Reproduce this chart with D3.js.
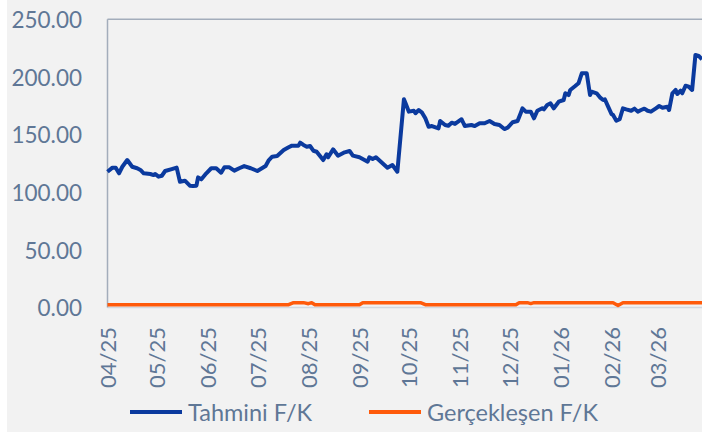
<!DOCTYPE html>
<html>
<head>
<meta charset="utf-8">
<script src="https://cdn.jsdelivr.net/npm/d3@7/dist/d3.min.js"></script>
<style>
    body { margin: 0; background: #ffffff; }
    svg text { font-family: Lato, "Open Sans", sans-serif; fill: #5f7796; }
</style>
</head>
<body>
<svg id="canvas"></svg>
<script>
// ########## Data ##########

seriesNames = ["Tahmini F/K", "Gerçekleşen F/K"];

tahminiDates = [
    "2025-04-01", "2025-04-04", "2025-04-06", "2025-04-08", "2025-04-10", "2025-04-13", "2025-04-16", "2025-04-19",
    "2025-04-21", "2025-04-23", "2025-04-27", "2025-04-29", "2025-04-30", "2025-05-02", "2025-05-04", "2025-05-06",
    "2025-05-10", "2025-05-13", "2025-05-15", "2025-05-18", "2025-05-21", "2025-05-23", "2025-05-25", "2025-05-26",
    "2025-05-28", "2025-05-31", "2025-06-03", "2025-06-06", "2025-06-09", "2025-06-11", "2025-06-14", "2025-06-17",
    "2025-06-20", "2025-06-23", "2025-06-27", "2025-07-01", "2025-07-03", "2025-07-06", "2025-07-08", "2025-07-10",
    "2025-07-13", "2025-07-17", "2025-07-20", "2025-07-22", "2025-07-26", "2025-07-27", "2025-07-29", "2025-07-31",
    "2025-08-02", "2025-08-04", "2025-08-06", "2025-08-10", "2025-08-12", "2025-08-13", "2025-08-16", "2025-08-19",
    "2025-08-23", "2025-08-26", "2025-08-28", "2025-09-01", "2025-09-06", "2025-09-07", "2025-09-09", "2025-09-11",
    "2025-09-15", "2025-09-18", "2025-09-21", "2025-09-24", "2025-09-28", "2025-09-29", "2025-10-01", "2025-10-04",
    "2025-10-05", "2025-10-07", "2025-10-09", "2025-10-11", "2025-10-13", "2025-10-15", "2025-10-19", "2025-10-20",
    "2025-10-23", "2025-10-25", "2025-10-27", "2025-10-29", "2025-11-02", "2025-11-04", "2025-11-08", "2025-11-10",
    "2025-11-13", "2025-11-16", "2025-11-19", "2025-11-22", "2025-11-25", "2025-11-28", "2025-11-30", "2025-12-03",
    "2025-12-06", "2025-12-08", "2025-12-09", "2025-12-11", "2025-12-14", "2025-12-16", "2025-12-18", "2025-12-21",
    "2025-12-22", "2025-12-24", "2025-12-26", "2025-12-28", "2025-12-31", "2026-01-03", "2026-01-04", "2026-01-06",
    "2026-01-07", "2026-01-10", "2026-01-12", "2026-01-14", "2026-01-17", "2026-01-19", "2026-01-20", "2026-01-23",
    "2026-01-25", "2026-01-27", "2026-01-28", "2026-01-30", "2026-02-01", "2026-02-02", "2026-02-04", "2026-02-06",
    "2026-02-08", "2026-02-10", "2026-02-13", "2026-02-15", "2026-02-17", "2026-02-19", "2026-02-21", "2026-02-23",
    "2026-02-25", "2026-02-28", "2026-03-02", "2026-03-04", "2026-03-07", "2026-03-08", "2026-03-10", "2026-03-12",
    "2026-03-13", "2026-03-15", "2026-03-16", "2026-03-18", "2026-03-20", "2026-03-22", "2026-03-24", "2026-03-26",
    "2026-03-28"
];

tahminiValues = [
    117.8, 121.3, 121.3, 116.4, 122.1, 127.9, 122.1, 120.8,
    119.3, 116.4, 115.8, 114.9, 115.8, 113.5, 114.3, 118.4,
    120.1, 121.3, 109.1, 110.0, 105.7, 105.4, 105.7, 112.9,
    111.2, 116.4, 120.8, 120.8, 116.9, 121.6, 121.6, 118.7,
    120.8, 122.7, 120.8, 118.4, 120.1, 122.7, 127.9, 130.8,
    131.4, 136.6, 139.0, 140.4, 140.4, 143.0, 141.0, 139.5,
    140.1, 136.0, 135.1, 127.9, 132.9, 130.3, 137.2, 131.7,
    134.6, 135.8, 131.7, 130.3, 126.5, 130.3, 128.8, 130.3,
    125.1, 121.3, 123.6, 117.8, 180.6, 177.1, 169.9, 170.7,
    168.5, 171.3, 169.0, 164.1, 156.8, 157.4, 155.4, 161.8,
    158.3, 157.7, 160.3, 159.2, 163.3, 157.4, 158.3, 157.4,
    159.8, 159.8, 161.8, 159.2, 158.3, 154.8, 156.0, 160.7,
    161.8, 169.0, 172.8, 169.9, 169.9, 164.1, 170.7, 172.8,
    171.9, 175.7, 177.1, 172.8, 178.5, 180.0, 185.8, 184.3,
    188.7, 192.1, 194.5, 203.2, 203.2, 184.3, 187.2, 185.8,
    182.3, 180.0, 180.6, 174.2, 167.9, 167.0, 162.0, 163.3,
    172.8, 171.9, 170.7, 172.5, 169.9, 171.3, 172.5, 170.7,
    169.9, 172.8, 174.8, 173.3, 174.2, 171.3, 185.8, 188.7,
    185.2, 188.1, 185.8, 192.4, 191.5, 188.7, 219.0, 218.2,
    215.3
];

gerceklesenDates = [
    "2025-04-01", "2025-07-20", "2025-07-23", "2025-07-29", "2025-08-01", "2025-08-03", "2025-08-05", "2025-09-01",
    "2025-09-03", "2025-10-08", "2025-10-11", "2025-12-05", "2025-12-07", "2025-12-12", "2025-12-14", "2025-12-16",
    "2026-02-02", "2026-02-05", "2026-02-08", "2026-03-28"
];

gerceklesenValues = [
    2.4, 2.4, 4.2, 4.2, 3.3, 4.2, 2.4, 2.4,
    4.2, 4.2, 2.4, 2.4, 4.2, 4.2, 3.4, 4.2,
    4.2, 1.8, 4.2, 4.2
];

yTicks = [0, 50, 100, 150, 200, 250];

monthTicks = [
    "2025-04-01", "2025-05-01", "2025-06-01", "2025-07-01", "2025-08-01", "2025-09-01",
    "2025-10-01", "2025-11-01", "2025-12-01", "2026-01-01", "2026-02-01", "2026-03-01"
];

w = 702;
h = 434;

parseDate = d3.timeParse("%Y-%m-%d");
formatMonth = d3.timeFormat("%m/%y");

function drawChart() {

    // ########## SVG ##########
    svg = d3.select("#canvas")
        .attr("width", w)
        .attr("height", h);

    svg.append("rect")
        .attr("x", 7)
        .attr("y", 0)
        .attr("width", w - 7)
        .attr("height", 432)
        .attr("fill", "#f2f2f2");

    // ########## Scales ##########
    x = d3.scaleTime()
        .domain([parseDate("2025-04-01"), parseDate("2026-03-30")])
        .range([107.5, 705.3]);

    y = d3.scaleLinear()
        .domain([0, 250])
        .range([307.5, 19.3]);

    // ########## Frame ##########
    svg.append("line")
        .attr("x1", 107.5).attr("x2", w)
        .attr("y1", 307.5).attr("y2", 307.5)
        .attr("stroke", "#d3d8df")
        .attr("stroke-width", 1.5);

    svg.append("line")
        .attr("x1", 107.5).attr("x2", w)
        .attr("y1", 19.3).attr("y2", 19.3)
        .attr("stroke", "#a3adbb")
        .attr("stroke-width", 1.5);

    svg.append("line")
        .attr("x1", 107.5).attr("x2", 107.5)
        .attr("y1", 19.3).attr("y2", 307.5)
        .attr("stroke", "#a3adbb")
        .attr("stroke-width", 1.5);

    // ########## Y axis ##########
    yAxis = svg.append("g")
        .attr("transform", "translate(82,1)")
        .call(d3.axisLeft(y)
            .tickValues(yTicks)
            .tickSize(0)
            .tickPadding(0)
            .tickFormat(d3.format(".2f")));

    yAxis.select(".domain").remove();
    yAxis.selectAll("text")
        .attr("font-size", 22.5)
        .attr("fill", "#62799a");

    // ########## X axis ##########
    xAxis = svg.append("g")
        .attr("transform", "translate(0,327)")
        .call(d3.axisBottom(x)
            .tickValues(monthTicks.map(parseDate))
            .tickSize(0)
            .tickPadding(0)
            .tickFormat(formatMonth));

    xAxis.select(".domain").remove();
    xAxis.selectAll("text")
        .attr("font-size", 22)
        .attr("fill", "#62799a")
        .attr("transform", "rotate(-90)")
        .attr("x", 0)
        .attr("y", 0)
        .attr("dy", "0.35em")
        .attr("text-anchor", "end");

    // ########## Lines ##########
    line = d3.line()
        .x(function (d) { return x(d.date); })
        .y(function (d) { return y(d.value); });

    tahmini = tahminiDates.map(function (d, i) { return { date: parseDate(d), value: tahminiValues[i] }; });
    gerceklesen = gerceklesenDates.map(function (d, i) { return { date: parseDate(d), value: gerceklesenValues[i] }; });

    svg.append("path")
        .datum(gerceklesen)
        .attr("d", line)
        .attr("fill", "none")
        .attr("stroke", "#ff5a0a")
        .attr("stroke-width", 3.5)
        .attr("stroke-linejoin", "round");

    svg.append("path")
        .datum(tahmini)
        .attr("d", line)
        .attr("fill", "none")
        .attr("stroke", "#0b3a9e")
        .attr("stroke-width", 4)
        .attr("stroke-linejoin", "round");

    // ########## Legend ##########
    legendItems = [
        { name: seriesNames[0], color: "#0b3a9e", x: 130 },
        { name: seriesNames[1], color: "#ff5a0a", x: 369 }
    ];

    legend = svg.append("g")
        .selectAll("g")
        .data(legendItems)
        .enter()
        .append("g")
        .attr("transform", function (d) { return "translate(" + d.x + ",412)"; });

    legend.append("line")
        .attr("x1", 0).attr("x2", 52)
        .attr("stroke", function (d) { return d.color; })
        .attr("stroke-width", 4);

    legend.append("text")
        .attr("x", 58)
        .attr("y", 9)
        .attr("font-size", 23.5)
        .attr("fill", "#62799a")
        .text(function (d) { return d.name; });
}

drawChart();
</script>
</body>
</html>
